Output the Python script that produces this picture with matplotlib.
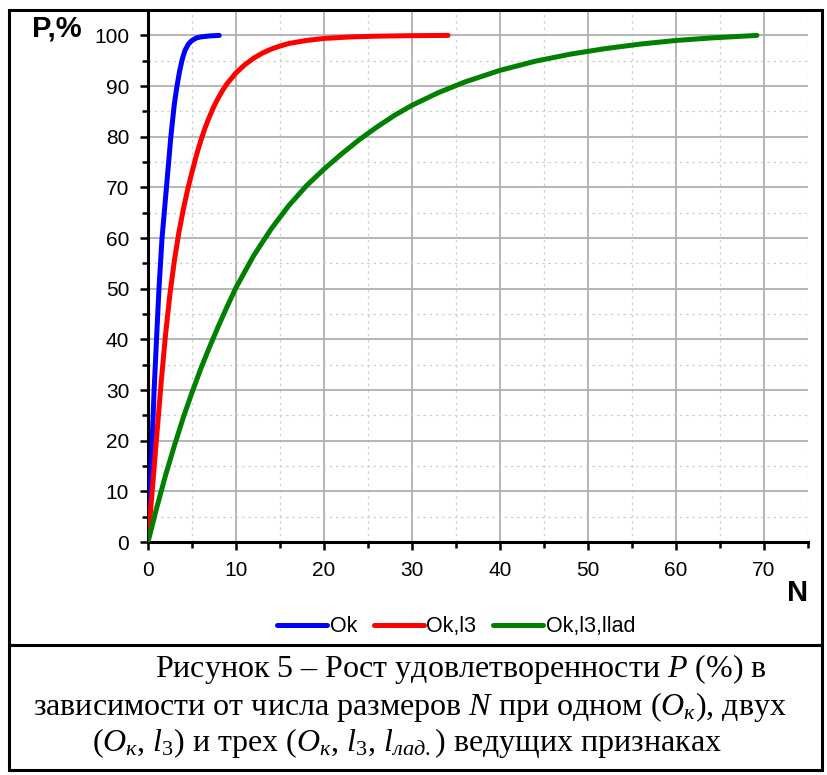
import numpy as np
import matplotlib
matplotlib.use('Agg')
import matplotlib.pyplot as plt
from matplotlib.patches import Rectangle
from matplotlib.lines import Line2D
from matplotlib.ticker import MultipleLocator

plt.rcParams['font.family'] = ['Liberation Sans', 'DejaVu Sans']
plt.rcParams['mathtext.fontset'] = 'custom'
plt.rcParams['mathtext.rm'] = 'Liberation Serif'
plt.rcParams['mathtext.it'] = 'Liberation Serif:italic'

# data
n_ok = [0, 0.25, 0.5, 0.7, 1, 1.25, 1.6, 2.1, 2.6, 3.0, 3.3, 3.6, 3.9, 4.2,
        4.6, 5, 5.5, 6, 7, 8.1]
p_ok = [0, 10, 21, 30, 41, 50, 60, 70, 80, 86.5, 90, 93, 95.3, 97,
        98.3, 99, 99.5, 99.7, 99.9, 100]

n_ok_l3 = [0, 0.5, 1, 1.5, 2, 2.5, 3, 3.5, 4, 4.5, 5, 5.5, 6, 6.5, 7, 7.5, 8,
           8.5, 9, 10, 11, 12, 13, 14, 15, 16, 18, 20, 23, 26, 30, 34.1]
p_ok_l3 = [0, 10.5, 21, 31.5, 41, 49, 55.5, 61, 65.5, 69.5, 73, 76.3, 79.2,
           81.8, 84, 86, 87.7, 89.2, 90.5, 92.6, 94.2, 95.5, 96.5, 97.3, 97.9,
           98.4, 99, 99.4, 99.7, 99.85, 99.95, 100]

n_ok_l3_llad = [0, 1, 2, 3, 4, 5, 6, 7, 8, 9, 10, 12, 14, 16, 18, 20, 22, 24,
                26, 28, 30, 33, 36, 40, 44, 48, 52, 56, 60, 64, 69.2]
p_ok_l3_llad = [0, 6.8, 13.2, 19, 24.5, 29.5, 34.2, 38.5, 42.6, 46.5, 50.2,
                56.5, 61.8, 66.4, 70.3, 73.6, 76.6, 79.4, 81.9, 84.2, 86.2,
                88.7, 90.8, 93.1, 94.9, 96.3, 97.4, 98.3, 99, 99.5, 100]

labels = ['Ok', 'Ok,l3', 'Ok,l3,llad']
colors = ['#0000ff', '#ff0000', '#008000']

fig = plt.figure(figsize=(8.28, 7.75), dpi=100)
ax = fig.add_axes([0.1787, 0.3006, 0.7971, 0.6864])

series = [(n_ok, p_ok), (n_ok_l3, p_ok_l3), (n_ok_l3_llad, p_ok_l3_llad)]
for (xs, ys), lab, c in zip(series, labels, colors):
    ax.plot(xs, ys, color=c, lw=3.6, label=lab, solid_capstyle='round',
            solid_joinstyle='round', zorder=3)

ax.set_xlim(0, 75)
ax.set_ylim(0, 105)
ax.xaxis.set_major_locator(MultipleLocator(10))
ax.xaxis.set_minor_locator(MultipleLocator(5))
ax.yaxis.set_major_locator(MultipleLocator(10))
ax.yaxis.set_minor_locator(MultipleLocator(5))
ax.set_xticks([0, 10, 20, 30, 40, 50, 60, 70])

ax.grid(which='major', color='#b0b0b0', lw=1.3, ls='-')
ax.grid(which='minor', color='#cfcfcf', lw=0.9, ls=(0, (2, 3)))
ax.set_axisbelow(True)

for s in ['top', 'right']:
    ax.spines[s].set_visible(False)
for s in ['left', 'bottom']:
    ax.spines[s].set_linewidth(2.2)
ax.tick_params(which='major', direction='out', length=5.5, width=1.8, labelsize=15, pad=8)
ax.tick_params(which='minor', direction='out', length=4, width=1.8)

fig.text(0.069, 0.963, 'P,%', fontsize=21, fontweight='bold', ha='center', va='center')
fig.text(0.963, 0.235, 'N', fontsize=21, fontweight='bold', ha='center', va='center')

handles = [Line2D([], [], color=c, lw=3.6, solid_capstyle='round') for c in colors]
fig.legend(handles, labels, loc='center', bbox_to_anchor=(0.551, 0.191), ncol=3,
           frameon=False, fontsize=15.5, handlelength=2.3, handletextpad=0.12,
           columnspacing=0.8, borderpad=0)

# outer frame and caption box
fig.add_artist(Rectangle((0.0105, 0.0065), 0.982, 0.9805, transform=fig.transFigure,
                         fill=False, lw=2.2, ec='black', zorder=10))
fig.add_artist(Line2D([0.0105, 0.9925], [0.1677, 0.1677], transform=fig.transFigure,
                      color='black', lw=2.2, zorder=10))

cap = dict(fontsize=23, family=['Liberation Serif', 'DejaVu Serif'], va='center')
fig.text(0.187, 0.137, 'Рисунок 5 – Рост удовлетворенности $P$ (%) в', **cap)
fig.text(0.040, 0.088, 'зависимости от числа размеров $N$ при одном ($O_{к}$), двух', **cap)
fig.text(0.4916, 0.041,
         '($O_{к}$, $l_{3}$) и трех ($O_{к}$, $l_{3}$, $l_{лад.}$) ведущих признаках',
         ha='center', **cap)

plt.savefig('out.png', dpi=100)
